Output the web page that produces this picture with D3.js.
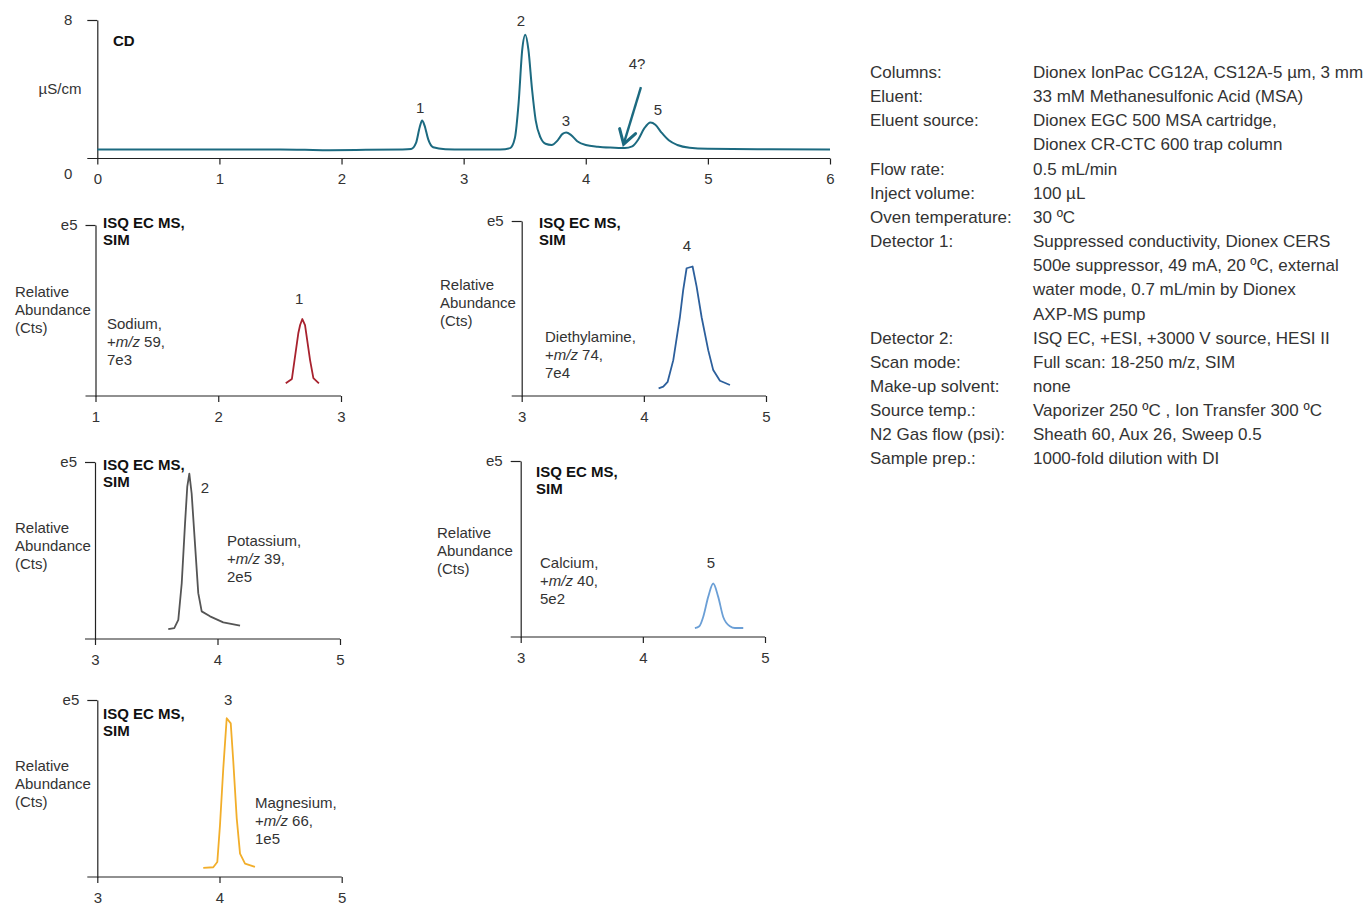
<!DOCTYPE html>
<html>
<head>
<meta charset="utf-8">
<script src="https://cdn.jsdelivr.net/npm/d3@7"></script>
<style>
  body { margin: 0; background: #fff; }
  svg { display: block; font-family: "Liberation Sans", Arial, sans-serif; }
  .axis path, .axis line { stroke: #222; stroke-width: 1.2; }
  .axis text { fill: #333; font-size: 15px; font-family: "Liberation Sans", Arial, sans-serif; }
  .lbl { fill: #333; font-size: 15px; }
  .ttl { fill: #111; font-size: 15px; font-weight: bold; }
  .cond { fill: #333; font-size: 17px; }
</style>
</head>
<body>
<div id="chart"></div>
<script>
// ---- CD chromatogram (min, µS/cm)
const cdTime = [0, 0.5, 1.0, 1.5, 1.7, 1.9, 2.2, 2.5, 2.57, 2.61, 2.64, 2.66, 2.68, 2.71, 2.75, 2.85, 3.0, 3.3,
  3.38, 3.42, 3.45, 3.48, 3.505, 3.53, 3.56, 3.59, 3.63, 3.67, 3.72, 3.77, 3.81, 3.84, 3.88, 3.93, 4.0, 4.1, 4.2,
  4.32, 4.38, 4.43, 4.48, 4.53, 4.57, 4.62, 4.68, 4.75, 4.85, 5.0, 5.5, 6.0];
const cdSignal = [0.52, 0.52, 0.52, 0.52, 0.5, 0.48, 0.5, 0.52, 0.55, 0.9, 1.8, 2.2, 1.9, 1.1, 0.65, 0.54, 0.52, 0.52,
  0.6, 1.2, 3.2, 6.3, 7.15, 6.3, 4.0, 2.2, 1.2, 0.85, 0.78, 1.05, 1.42, 1.5, 1.35, 1.0, 0.78, 0.68, 0.63,
  0.6, 0.7, 1.1, 1.75, 2.08, 1.95, 1.5, 1.05, 0.78, 0.62, 0.56, 0.53, 0.52];
const cdTicks = [0, 1, 2, 3, 4, 5, 6];
const cdPeakText = ['1', '2', '3', '5', '4?'];
const cdPeakTime = [2.643, 3.47, 3.838, 4.59, 4.42];
const cdPeakSignal = [2.9, 7.94, 2.14, 2.78, 5.45];
const cdArrowTime = [4.452, 4.31];
const cdArrowSignal = [4.12, 0.83];

// ---- MS SIM traces (min, relative abundance)
const naTime = [2.55, 2.60, 2.653, 2.667, 2.685, 2.707, 2.748, 2.775, 2.82];
const naAbund = [0.074, 0.10, 0.37, 0.415, 0.45, 0.415, 0.21, 0.105, 0.074];
const deaTime = [4.121, 4.159, 4.195, 4.241, 4.295, 4.322, 4.350, 4.399, 4.432, 4.473, 4.527, 4.568, 4.623, 4.705];
const deaAbund = [0.044, 0.053, 0.081, 0.205, 0.45, 0.605, 0.73, 0.74, 0.625, 0.45, 0.262, 0.148, 0.087, 0.063];
const kTime = [3.598, 3.647, 3.680, 3.708, 3.735, 3.753, 3.770, 3.789, 3.816, 3.843, 3.871, 3.939, 4.047, 4.184];
const kAbund = [0.056, 0.062, 0.108, 0.315, 0.653, 0.859, 0.934, 0.822, 0.540, 0.259, 0.156, 0.128, 0.094, 0.075];
const caTime = [4.426, 4.462, 4.494, 4.535, 4.576, 4.617, 4.658, 4.713, 4.754, 4.822];
const caAbund = [0.051, 0.061, 0.114, 0.228, 0.304, 0.228, 0.114, 0.061, 0.051, 0.051];
const mgTime = [3.867, 3.949, 3.982, 4.004, 4.031, 4.059, 4.092, 4.113, 4.141, 4.168, 4.209, 4.290];
const mgAbund = [0.051, 0.055, 0.085, 0.293, 0.614, 0.897, 0.868, 0.651, 0.331, 0.132, 0.076, 0.057];

const msNames = ['Sodium,', 'Diethylamine,', 'Potassium,', 'Calcium,', 'Magnesium,'];
const msMz = ['59,', '74,', '39,', '40,', '66,'];
const msScale = ['7e3', '7e4', '2e5', '5e2', '1e5'];
const msPeakText = ['1', '4', '2', '5', '3'];
const msPeakTime = [2.66, 4.353, 3.898, 4.557, 4.07];
const msPeakAbund = [0.57, 0.856, 0.852, 0.42, 1.0];

// ---- conditions table
const condLabels = ['Columns:', 'Eluent:', 'Eluent source:', '', 'Flow rate:', 'Inject volume:', 'Oven temperature:',
  'Detector 1:', '', '', '', 'Detector 2:', 'Scan mode:', 'Make-up solvent:', 'Source temp.:', 'N2 Gas flow (psi):',
  'Sample prep.:'];
const condValues = ['Dionex IonPac CG12A, CS12A-5 µm, 3 mm', '33 mM Methanesulfonic Acid (MSA)',
  'Dionex EGC 500 MSA cartridge,', 'Dionex CR-CTC 600 trap column', '0.5 mL/min', '100 µL', '30 ºC',
  'Suppressed conductivity, Dionex CERS', '500e suppressor, 49 mA, 20 ºC, external',
  'water mode, 0.7 mL/min by Dionex', 'AXP-MS pump', 'ISQ EC, +ESI, +3000 V source, HESI II',
  'Full scan: 18-250 m/z, SIM', 'none', 'Vaporizer 250 ºC , Ion Transfer 300 ºC',
  'Sheath 60, Aux 26, Sweep 0.5', '1000-fold dilution with DI'];

// layout
const W = 1366, H = 905;
const teal = '#1c6a80';
const intFmt = d3.format('d');

const svg = d3.select('#chart').append('svg')
  .attr('width', W).attr('height', H);

// ---------- CD panel
(function () {
  const x = d3.scaleLinear().domain([0, 6]).range([97.3, 830]);
  const y = d3.scaleLinear().domain([0, 8]).range([158.5, 20]);
  const g = svg.append('g');

  const xa = g.append('g').attr('class', 'axis')
    .attr('transform', `translate(0,${y(0)})`)
    .call(d3.axisBottom(x).tickValues(cdTicks).tickFormat(intFmt).tickSize(6).tickSizeOuter(0).tickPadding(9));
  xa.select('.domain').remove();
  xa.append('line').attr('x1', x(0) - 10).attr('x2', x(6));

  const ya = g.append('g').attr('class', 'axis')
    .attr('transform', `translate(${x(0)},0)`)
    .call(d3.axisLeft(y).tickValues([0, 8]).tickFormat(intFmt).tickSize(10).tickSizeOuter(0).tickPadding(15));
  ya.selectAll('.tick').filter(d => d === 0).select('line').remove();
  ya.selectAll('.tick').filter(d => d === 0).select('text').attr('dy', '1.3em');

  g.append('text').attr('class', 'ttl').attr('x', 113).attr('y', 46).text('CD');
  g.append('text').attr('class', 'lbl').attr('x', 60).attr('y', 94)
    .attr('text-anchor', 'middle').text('µS/cm');

  const line = d3.line().x((d, i) => x(cdTime[i])).y(d => y(d)).curve(d3.curveMonotoneX);
  g.append('path').datum(cdSignal)
    .attr('d', line).attr('fill', 'none').attr('stroke', teal).attr('stroke-width', 2);

  g.selectAll('.pk').data(cdPeakText).join('text')
    .attr('class', 'lbl').attr('text-anchor', 'middle')
    .attr('x', (d, i) => x(cdPeakTime[i]))
    .attr('y', (d, i) => y(cdPeakSignal[i]) + 5)
    .text(d => d);

  // arrow to questionable peak 4
  const ax0 = x(cdArrowTime[0]), ay0 = y(cdArrowSignal[0]);
  const ax1 = x(cdArrowTime[1]), ay1 = y(cdArrowSignal[1]);
  const ang = Math.atan2(ay1 - ay0, ax1 - ax0);
  const hl = 16, spread = 0.55;
  g.append('line').attr('x1', ax0).attr('y1', ay0).attr('x2', ax1).attr('y2', ay1)
    .attr('stroke', teal).attr('stroke-width', 2.4);
  g.append('path')
    .attr('d', `M${ax1 - hl * Math.cos(ang - spread)},${ay1 - hl * Math.sin(ang - spread)}L${ax1},${ay1}L${ax1 - hl * Math.cos(ang + spread)},${ay1 - hl * Math.sin(ang + spread)}`)
    .attr('fill', 'none').attr('stroke', teal).attr('stroke-width', 3).attr('stroke-linecap', 'round')
    .attr('stroke-linejoin', 'miter');
})();

// ---------- MS panels
const msPanels = [
  { time: naTime, abund: naAbund, color: '#a8222e', domain: [1, 3], ticks: [1, 2, 3],
    x0: 95.5, x1: 341, yTop: 225, yBot: 396, title: [103, 223], rel: [15, 292], name: [107, 324], curve: d3.curveLinear },
  { time: deaTime, abund: deaAbund, color: '#2c5f9c', domain: [3, 5], ticks: [3, 4, 5],
    x0: 521.7, x1: 766, yTop: 221, yBot: 396, title: [539, 223], rel: [440, 285], name: [545, 337], curve: d3.curveLinear },
  { time: kTime, abund: kAbund, color: '#555555', domain: [3, 5], ticks: [3, 4, 5],
    x0: 95, x1: 340, yTop: 462, yBot: 639, title: [103, 465], rel: [15, 528], name: [227, 541], curve: d3.curveLinear },
  { time: caTime, abund: caAbund, color: '#6b9fd6', domain: [3, 5], ticks: [3, 4, 5],
    x0: 520.7, x1: 765, yTop: 461, yBot: 637, title: [536, 472], rel: [437, 533], name: [540, 563], curve: d3.curveMonotoneX },
  { time: mgTime, abund: mgAbund, color: '#f2ae2a', domain: [3, 5], ticks: [3, 4, 5],
    x0: 97.3, x1: 341.7, yTop: 700, yBot: 877, title: [103, 714], rel: [15, 766], name: [255, 803], curve: d3.curveLinear },
];

msPanels.forEach((p, k) => {
  const x = d3.scaleLinear().domain(p.domain).range([p.x0, p.x1]);
  const y = d3.scaleLinear().domain([0, 1]).range([p.yBot, p.yTop]);
  const g = svg.append('g');

  const xa = g.append('g').attr('class', 'axis')
    .attr('transform', `translate(0,${p.yBot})`)
    .call(d3.axisBottom(x).tickValues(p.ticks).tickFormat(intFmt).tickSize(6).tickSizeOuter(0).tickPadding(9));
  xa.select('.domain').remove();
  xa.append('line').attr('x1', p.x0 - 10).attr('x2', p.x1);

  g.append('g').attr('class', 'axis')
    .attr('transform', `translate(${p.x0},0)`)
    .call(d3.axisLeft(y).tickValues([1]).tickFormat(() => 'e5').tickSize(10).tickSizeOuter(0).tickPadding(8));

  const t = g.append('text').attr('class', 'ttl').attr('x', p.title[0]).attr('y', p.title[1] + 5);
  t.append('tspan').text('ISQ EC MS,');
  t.append('tspan').attr('x', p.title[0]).attr('dy', 17).text('SIM');

  const r = g.append('text').attr('class', 'lbl').attr('x', p.rel[0]).attr('y', p.rel[1] + 5);
  ['Relative', 'Abundance', '(Cts)'].forEach((s, i) => {
    r.append('tspan').attr('x', p.rel[0]).attr('dy', i ? 18 : 0).text(s);
  });

  const n = g.append('text').attr('class', 'lbl').attr('x', p.name[0]).attr('y', p.name[1] + 5);
  n.append('tspan').text(msNames[k]);
  n.append('tspan').attr('x', p.name[0]).attr('dy', 18).text('+');
  n.append('tspan').attr('font-style', 'italic').text('m/z');
  n.append('tspan').text(' ' + msMz[k]);
  n.append('tspan').attr('x', p.name[0]).attr('dy', 18).text(msScale[k]);

  const line = d3.line().x((d, i) => x(p.time[i])).y(d => y(d)).curve(p.curve);
  g.append('path').datum(p.abund)
    .attr('d', line).attr('fill', 'none').attr('stroke', p.color).attr('stroke-width', 1.8)
    .attr('stroke-linejoin', 'round');

  g.append('text').attr('class', 'lbl').attr('text-anchor', 'middle')
    .attr('x', x(msPeakTime[k])).attr('y', y(msPeakAbund[k]) + 5).text(msPeakText[k]);
});

// ---------- conditions
const cond = svg.append('g');
condLabels.forEach((s, i) => {
  const yy = 72 + i * 24.15 + 6;
  if (s) cond.append('text').attr('class', 'cond').attr('x', 870).attr('y', yy).text(s);
  cond.append('text').attr('class', 'cond').attr('x', 1033).attr('y', yy).text(condValues[i]);
});
</script>
</body>
</html>
